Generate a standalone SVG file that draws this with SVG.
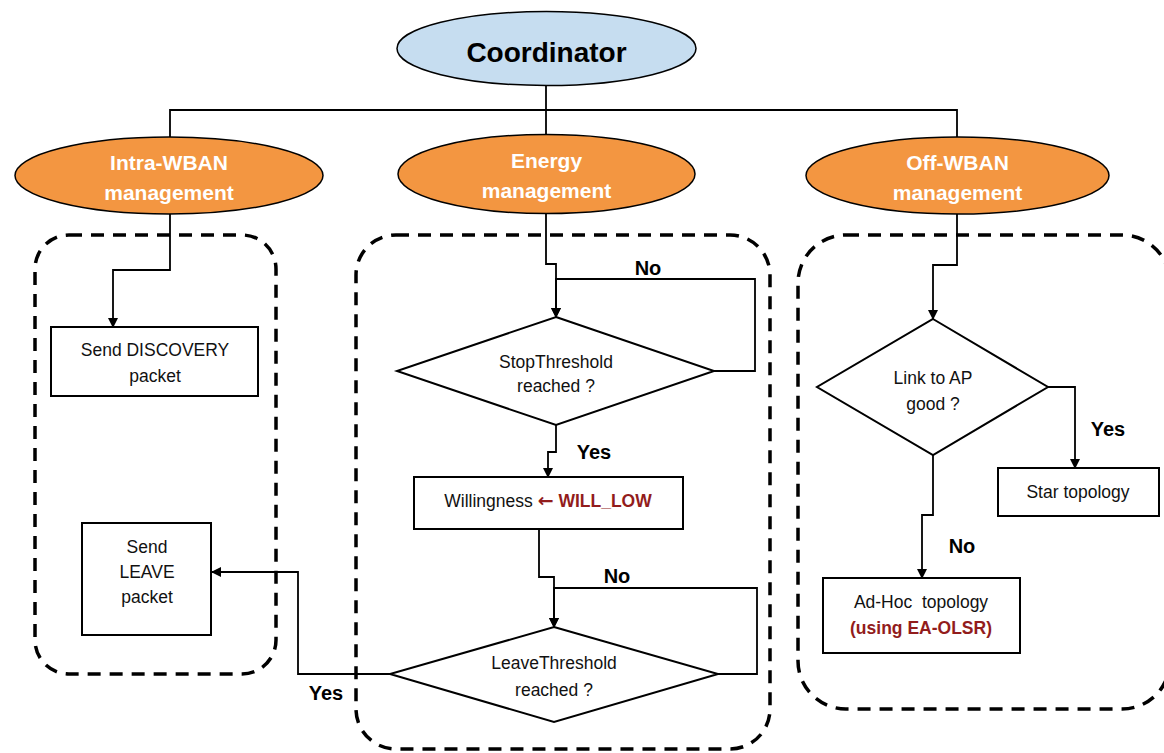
<svg xmlns="http://www.w3.org/2000/svg" width="1164" height="753" viewBox="0 0 1164 753">
<defs>
<marker id="ah" markerWidth="10" markerHeight="10" refX="9" refY="5" orient="auto" markerUnits="userSpaceOnUse">
<path d="M0,0 L10,5 L0,10 Z" fill="#000"/>
</marker>
<style>
.t{font-family:"Liberation Sans",Arial,sans-serif;font-size:17.5px;fill:#111;text-anchor:middle}
.b{font-family:"Liberation Sans",Arial,sans-serif;font-weight:bold;font-size:20px;fill:#000;text-anchor:middle}
.w{font-family:"Liberation Sans",Arial,sans-serif;font-weight:bold;font-size:21px;fill:#fff;text-anchor:middle}
.r{font-weight:bold;fill:#921c1c}
.arr{font-family:"DejaVu Sans",sans-serif;font-weight:bold;font-size:19px;fill:#921c1c}
.box{fill:#fff;stroke:#000;stroke-width:2}
.dash{fill:none;stroke:#000;stroke-width:3.5;stroke-dasharray:13 9}
.c{fill:none;stroke:#000;stroke-width:1.8}
.ca{fill:none;stroke:#000;stroke-width:1.8;marker-end:url(#ah)}
.orange{fill:#f39641;stroke:#000;stroke-width:1.5}
</style>
</defs>
<rect width="1164" height="753" fill="#fff"/>
<g id="groups">
<rect id="intra-group" class="dash" x="35" y="235" width="241" height="439" rx="34"/>
<rect id="energy-group" class="dash" x="356" y="235" width="414" height="514" rx="40"/>
<rect id="off-group" class="dash" x="798" y="235" width="372" height="474" rx="48"/>
</g>
<g id="connectors">
<path class="c" d="M546,85 V135"/>
<path class="c" d="M170,137 V110 H957 V137"/>
<path class="ca" d="M170,214 V270 H113 V327"/>
<path class="ca" d="M546,213 V264 H556 V317"/>
<path class="ca" d="M714,371 H755 V279 H556 V317"/>
<path class="ca" d="M556,425 V452 H548 V477"/>
<path class="ca" d="M539,529 V577 H554 V627"/>
<path class="ca" d="M718,674 H757 V588 H554 V627"/>
<path class="ca" d="M390,674 H298 V572 H212"/>
<path class="ca" d="M957,214 V265 H933 V319"/>
<path class="ca" d="M1048,387 H1075 V468"/>
<path class="ca" d="M933,455 V515 H922 V578"/>
<text class="b" x="648" y="275">No</text>
<text class="b" x="594" y="459">Yes</text>
<text class="b" x="617" y="583">No</text>
<text class="b" x="326" y="700">Yes</text>
<text class="b" x="1108" y="436">Yes</text>
<text class="b" x="962" y="553">No</text>
</g>
<g id="coordinator">
<ellipse cx="546.5" cy="48.5" rx="149.5" ry="37" fill="#c6ddf0" stroke="#000" stroke-width="1.5"/>
<text class="b" x="546.5" y="62" style="font-size:28px">Coordinator</text>
</g>
<g id="intra">
<ellipse class="orange" cx="169" cy="175.5" rx="154" ry="38.5"/>
<text class="w" x="169" y="170">Intra-WBAN</text>
<text class="w" x="169" y="200">management</text>
</g>
<g id="energy">
<ellipse class="orange" cx="546.5" cy="174" rx="148.5" ry="39.5"/>
<text class="w" x="546.5" y="168">Energy</text>
<text class="w" x="546.5" y="198">management</text>
</g>
<g id="off">
<ellipse class="orange" cx="957.5" cy="175.5" rx="151.5" ry="38.5"/>
<text class="w" x="957.5" y="170">Off-WBAN</text>
<text class="w" x="957.5" y="200">management</text>
</g>
<g id="send-discovery">
<rect class="box" x="51" y="327" width="207" height="69"/>
<text class="t" x="155" y="356">Send DISCOVERY</text>
<text class="t" x="155" y="382">packet</text>
</g>
<g id="send-leave">
<rect class="box" x="82" y="523" width="129" height="112"/>
<text class="t" x="147" y="553">Send</text>
<text class="t" x="147" y="578">LEAVE</text>
<text class="t" x="147" y="603">packet</text>
</g>
<g id="stop-threshold">
<polygon class="box" points="556,317 714,371 556,425 397,371"/>
<text class="t" x="556" y="368">StopThreshold</text>
<text class="t" x="556" y="392">reached ?</text>
</g>
<g id="willingness">
<rect class="box" x="414" y="477" width="269" height="52"/>
<text class="t" x="548" y="507">Willingness <tspan class="arr">←</tspan> <tspan class="r">WILL_LOW</tspan></text>
</g>
<g id="leave-threshold">
<polygon class="box" points="554,627 718,674 554,722 390,674"/>
<text class="t" x="554" y="669">LeaveThreshold</text>
<text class="t" x="554" y="696">reached ?</text>
</g>
<g id="link-ap">
<polygon class="box" points="933,319 1048,387 933,455 817,387"/>
<text class="t" x="933" y="384">Link to AP</text>
<text class="t" x="933" y="410">good ?</text>
</g>
<g id="star">
<rect class="box" x="998" y="468" width="161" height="48"/>
<text class="t" x="1078" y="498">Star topology</text>
</g>
<g id="adhoc">
<rect class="box" x="823" y="578" width="197" height="75"/>
<text class="t" x="921" y="608" xml:space="preserve">Ad-Hoc  topology</text>
<text class="t r" x="921" y="634">(using EA-OLSR)</text>
</g>
</svg>
